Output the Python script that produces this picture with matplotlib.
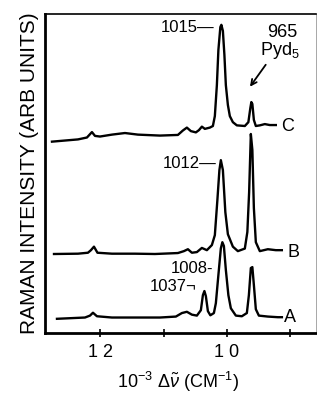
import matplotlib
matplotlib.use("Agg")
import matplotlib.pyplot as plt

plt.rcParams['font.family'] = ['Liberation Sans', 'DejaVu Sans']
plt.rcParams['mathtext.fontset'] = 'custom'
plt.rcParams['mathtext.rm'] = 'Liberation Sans'
plt.rcParams['mathtext.it'] = 'Liberation Sans:italic'

# traced spectra, x in 10^2 cm^-1 as on the axis, y in arbitrary units (offset per trace)
c_x = [12.765, 12.354, 12.212, 12.133, 12.085, 12.006, 11.817, 11.611, 11.406, 11.058,
       10.774, 10.695, 10.632, 10.569, 10.490, 10.442, 10.395, 10.348, 10.269, 10.221,
       10.190, 10.158, 10.134, 10.103, 10.087, 10.063, 10.039, 10.016, 9.984, 9.953,
       9.905, 9.842, 9.716, 9.660, 9.629, 9.613, 9.597, 9.573, 9.542, 9.479,
       9.400, 9.321, 9.226]
c_y = [60.0, 60.7, 61.3, 63.0, 61.8, 61.6, 62.2, 62.7, 62.2, 61.9,
       62.1, 63.5, 64.4, 63.3, 62.9, 63.6, 64.7, 64.0, 64.4, 64.9,
       68.0, 77.7, 88.7, 95.9, 96.6, 94.7, 87.2, 77.7, 71.5, 68.0,
       66.1, 65.1, 64.9, 66.1, 70.5, 72.4, 71.8, 66.8, 64.9, 65.1,
       65.5, 65.2, 65.2]

b_x = [12.733, 12.354, 12.196, 12.149, 12.101, 12.046, 11.817, 11.453, 11.137, 10.774,
       10.679, 10.616, 10.553, 10.474, 10.395, 10.316, 10.237, 10.190, 10.150, 10.118,
       10.095, 10.063, 10.024, 9.984, 9.905, 9.826, 9.716, 9.676, 9.648, 9.621,
       9.597, 9.573, 9.542, 9.479, 9.352, 9.226, 9.131]
b_y = [24.8, 24.9, 25.2, 26.0, 27.1, 25.2, 24.9, 24.9, 24.8, 25.1,
       25.7, 26.3, 25.2, 25.4, 26.7, 26.0, 27.6, 30.7, 41.7, 51.1,
       54.2, 51.1, 37.9, 31.0, 27.1, 25.7, 26.5, 31.7, 44.2, 62.4,
       57.4, 39.2, 28.5, 25.7, 26.3, 26.0, 26.0]

a_x = [12.686, 12.243, 12.164, 12.117, 12.054, 11.817, 11.374, 11.058, 10.806, 10.711,
       10.632, 10.553, 10.474, 10.411, 10.379, 10.355, 10.332, 10.300, 10.261, 10.205,
       10.174, 10.134, 10.095, 10.071, 10.047, 10.016, 9.976, 9.937, 9.858, 9.763,
       9.684, 9.652, 9.621, 9.597, 9.573, 9.542, 9.494, 9.352, 9.194, 9.130]
a_y = [4.5, 4.9, 5.5, 6.4, 5.3, 4.9, 4.9, 4.9, 5.2, 6.3,
       6.7, 5.8, 5.5, 7.2, 11.9, 13.2, 11.6, 6.9, 5.6, 6.3,
       9.4, 18.2, 26.6, 28.5, 27.3, 19.8, 11.9, 7.8, 5.5, 5.3,
       6.3, 11.9, 20.4, 20.7, 15.1, 7.5, 5.5, 5.2, 5.0, 5.0]

tick_pos = [12, 11, 10, 9]
tick_labels = ['1 2', '', '1 0', '']

fig = plt.figure(figsize=(3.17, 3.99), dpi=100)
ax = fig.add_axes([0.142, 0.165, 0.855, 0.80])

for xs, ys in [(c_x, c_y), (b_x, b_y), (a_x, a_y)]:
    ax.plot(xs, ys, color='black', lw=1.7, solid_joinstyle='round')

ax.set_xlim(12.875, 8.59)
ax.set_ylim(0, 100)

ax.set_xticks(tick_pos)
ax.set_xticklabels(tick_labels, fontsize=13)
ax.tick_params(axis='x', direction='inout', length=6, width=1.2, pad=5)
ax.set_yticks([])

for side in ['left', 'bottom']:
    ax.spines[side].set_linewidth(2.0)
ax.spines['top'].set_linewidth(1.2)
ax.spines['right'].set_linewidth(0.6)
ax.spines['right'].set_color('#999999')

ax.set_ylabel('RAMAN INTENSITY (ARB UNITS)', fontsize=15, labelpad=4)
fig.text(0.56, 0.042, r'10$^{-3}$ $\Delta\tilde{\nu}$ (CM$^{-1}$)', fontsize=13,
         ha='center', va='center')

# peak labels
ax.text(10.19, 95.9, '1015\u2014', fontsize=12, ha='right', va='center')
ax.text(10.158, 53.3, '1012\u2014', fontsize=12, ha='right', va='center')
ax.text(10.221, 20.2, '1008-', fontsize=12, ha='right', va='center')
ax.text(10.474, 14.6, '1037\u00ac', fontsize=12, ha='right', va='center')
ax.text(9.123, 94.2, '965', fontsize=13, ha='center', va='center')
ax.text(9.17, 88.4, r'Pyd$_5$', fontsize=13, ha='center', va='center')
ax.annotate('', xy=(9.66, 76.5), xytext=(9.36, 84.8),
            arrowprops=dict(arrowstyle='->', color='black', lw=1.3))

# trace labels
ax.text(9.04, 64.6, 'C', fontsize=13, ha='center', va='center')
ax.text(8.95, 25.4, 'B', fontsize=13, ha='center', va='center')
ax.text(9.0, 5.0, 'A', fontsize=13, ha='center', va='center')

fig.savefig('out.png', dpi=100)
